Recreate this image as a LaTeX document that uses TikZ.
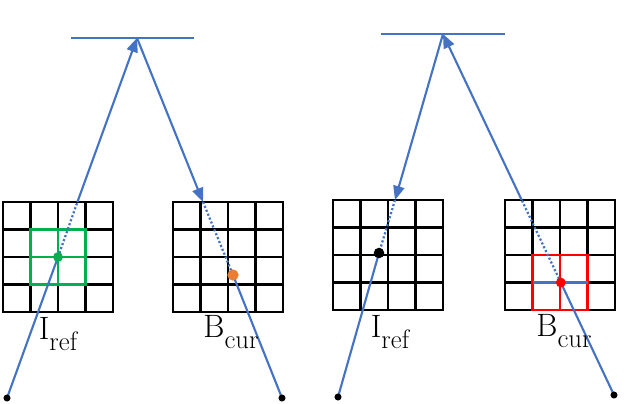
\documentclass[tikz,border=0pt]{standalone}
\usetikzlibrary{arrows.meta}
\newcommand{\sublbl}[2]{#1\raisebox{-0.32em}{\fontsize{19}{20}\selectfont #2}}
\definecolor{rayblue}{RGB}{68,114,196}
\definecolor{refgreen}{RGB}{0,176,80}
\definecolor{curorange}{RGB}{237,125,49}
\begin{document}
\begin{tikzpicture}[x=0.025cm, y=-0.025cm,
    ray/.style={rayblue, line width=1.5pt},
    hidden/.style={rayblue, line width=1.6pt, dash pattern=on 1.5pt off 1.5pt},
    tip/.style={-{Triangle[length=10pt, width=8pt]}},
    cellline/.style={black, line width=1.8pt, line cap=rect},
    lbl/.style={font=\fontsize{23}{26}\selectfont, inner sep=0pt},
    dot/.style={circle, fill, inner sep=0pt, minimum size=#1}]
  \useasboundingbox (0,0) rectangle (640,403);
  % the four 4x4 grids
  \foreach \gx/\gy in {3/202, 173/202, 333/200, 505/200} {
    \foreach \i in {0,...,4} {
      \draw[cellline] (\gx+27.5*\i, \gy) -- ++(0,110);
      \draw[cellline] (\gx, \gy+27.5*\i) -- ++(110,0);
    }
  }
  \draw[refgreen, line width=1.8pt] (30.5,229.5) rectangle (85.5,284.5);
  \draw[refgreen, line width=1.8pt] (58,229.5) -- (58,284.5) (30.5,257) -- (85.5,257);
  \draw[red, line width=1.8pt] (532.5,255) rectangle (587.5,310);
  \draw[red, line width=1.8pt] (560,255) -- (560,310);
  \draw[ray] (532.5,282.5) -- (587.5,282.5);
  % left panel
  \coordinate (mirLa) at (71,38);
  \coordinate (mirLb) at (194,38);
  \coordinate (apexL) at (137,38);
  \coordinate (srcL) at (7,398);
  \coordinate (dstL) at (282,398);
  \coordinate (refL) at (58,257);
  \coordinate (curL) at (233,275);
  \coordinate (hitL) at (77.4,202);
  \coordinate (hitR) at (203,202);
  \draw[ray] (mirLa) -- (mirLb);
  \draw[ray] (srcL) -- (refL);
  \draw[hidden] (refL) -- (hitL);
  \draw[ray, tip] (hitL) -- (apexL);
  \draw[ray, tip] (apexL) -- (hitR);
  \draw[hidden] (hitR) -- (curL);
  \draw[ray] (curL) -- (dstL);
  \node[dot=5pt] (srcLdot) at (srcL) {};
  \node[dot=5pt] (dstLdot) at (dstL) {};
  \node[dot=7pt, refgreen] (refLdot) at (refL) {};
  \node[dot=8pt, curorange] (curLdot) at (curL) {};
  \node[lbl] (irefL) at (58,334) {\sublbl{I}{ref}};
  \node[lbl] (bcurL) at (231,332) {\sublbl{B}{cur}};
  % right panel
  \coordinate (mirRa) at (381,34);
  \coordinate (mirRb) at (505,34);
  \coordinate (apexR) at (443,34);
  \coordinate (srcR) at (338,397);
  \coordinate (dstR) at (614,395);
  \coordinate (refR) at (379,253);
  \coordinate (curR) at (560.8,282.5);
  \coordinate (hitL2) at (395,200);
  \coordinate (hitR2) at (521.7,200);
  \draw[ray] (mirRa) -- (mirRb);
  \draw[ray, tip] (apexR) -- (hitL2);
  \draw[hidden] (hitL2) -- (refR);
  \draw[ray] (refR) -- (srcR);
  \draw[ray] (dstR) -- (curR);
  \draw[hidden] (curR) -- (hitR2);
  \draw[ray, tip] (hitR2) -- (apexR);
  \node[dot=5pt] (srcRdot) at (srcR) {};
  \node[dot=5pt] (dstRdot) at (dstR) {};
  \node[dot=7.5pt] (refRdot) at (refR) {};
  \node[dot=7pt, red] (curRdot) at (curR) {};
  \node[lbl] (irefR) at (390,332) {\sublbl{I}{ref}};
  \node[lbl] (bcurR) at (564,331) {\sublbl{B}{cur}};
\end{tikzpicture}
\end{document}
